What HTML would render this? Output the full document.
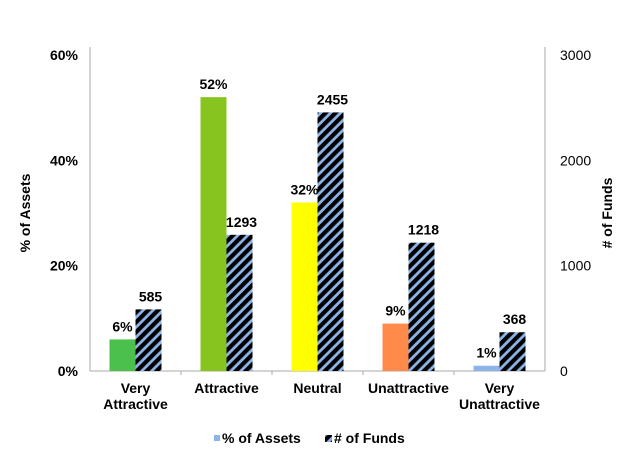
<!DOCTYPE html>
<html><head><meta charset="utf-8"><style>
body{margin:0;background:#fff;}
text{font-family:"Liberation Sans",Arial,sans-serif;}
</style></head><body>
<svg id="chart" width="630" height="463" xmlns="http://www.w3.org/2000/svg">
<defs>
<pattern id="hatch" patternUnits="userSpaceOnUse" width="7" height="7" patternTransform="rotate(45)">
<rect width="7" height="7" fill="#8cb4e8"/>
<rect width="4.2" height="7" fill="#000"/>
</pattern>
</defs>
<g id="plot"></g>
</svg>
<script>
const categories=[["Very","Attractive"],["Attractive"],["Neutral"],["Unattractive"],["Very","Unattractive"]];
const assetPct=[6,52,32,9,1];
const fundCounts=[585,1293,2455,1218,368];
const assetColors=["#4cc04c","#88c420","#ffff00","#ff8a4a","#8cb4e8"];
const leftTicks=[0,20,40,60];
const rightTicks=[0,1000,2000,3000];

const NS="http://www.w3.org/2000/svg";
const g=document.getElementById('plot');
const L=90,R=545,T=55,B=371;
const yL=v=>B-(v/60)*(B-T);
const yR=v=>B-(v/3000)*(B-T);
const cw=(R-L)/categories.length;
const xc=i=>L+cw*(i+0.5);
function mk(tag,attrs,txt){const e=document.createElementNS(NS,tag);for(const k in attrs)e.setAttribute(k,attrs[k]);if(txt!==undefined)e.textContent=txt;g.appendChild(e);return e;}

let e;
e=mk('line',{x1:L,y1:T-8,x2:L,y2:B,stroke:'#aaa','stroke-width':1});


e=mk('line',{x1:R,y1:T-8,x2:R,y2:B,stroke:'#aaa','stroke-width':1});


e=mk('line',{x1:L,y1:B,x2:R,y2:B,stroke:'#aaa','stroke-width':1});


for(let i=1;i<categories.length;i++){
 e=mk('line',{x1:L+cw*i,y1:B,x2:L+cw*i,y2:B+4,stroke:'#aaa'});
 
 
}
leftTicks.forEach(v=>{
 e=mk('text',{x:78,y:yL(v)+5,'text-anchor':'end','font-size':14,'font-weight':'bold'},v+'%');
 
 
});
rightTicks.forEach(v=>{
 e=mk('text',{x:560,y:yR(v)+5,'font-size':14},String(v));
 
 
});
e=mk('text',{x:0,y:0,transform:'translate(30,213) rotate(-90)','text-anchor':'middle','font-size':14,'font-weight':'bold'},'% of Assets');


e=mk('text',{x:0,y:0,transform:'translate(612,213) rotate(-90)','text-anchor':'middle','font-size':14,'font-weight':'bold'},'# of Funds');



const bw=26;
categories.forEach((c,i)=>{
 const cx=xc(i);
 const ya=yL(assetPct[i]);
 e=mk('rect',{x:cx-bw,y:ya,width:bw,height:B-ya,fill:assetColors[i]});
 
 
 const yf=yR(fundCounts[i]);
 e=mk('rect',{x:cx,y:yf,width:bw,height:B-yf,fill:'url(#hatch)'});
 
 
 e=mk('text',{x:cx-bw/2,y:ya-8,'text-anchor':'middle','font-size':14,'font-weight':'bold'},assetPct[i]+'%');
 
 
 e=mk('text',{x:cx+bw/2+2,y:yf-8,'text-anchor':'middle','font-size':14,'font-weight':'bold'},String(fundCounts[i]));
 
 
 c.forEach((ln,j)=>{
  const ty=c.length===1?393:393+j*16;
  e=mk('text',{x:cx,y:ty,'text-anchor':'middle','font-size':14,'font-weight':'bold'},ln);
  
  
 });
});
e=mk('rect',{x:214,y:435,width:6,height:6,fill:'#8cb4e8'});


e=mk('text',{x:222,y:443,'font-size':14,'font-weight':'bold'},'% of Assets');


e=mk('rect',{x:325,y:435,width:7,height:7,fill:'url(#hatch)'});


e=mk('text',{x:334,y:443,'font-size':14,'font-weight':'bold'},'# of Funds');


</script>
</body></html>
